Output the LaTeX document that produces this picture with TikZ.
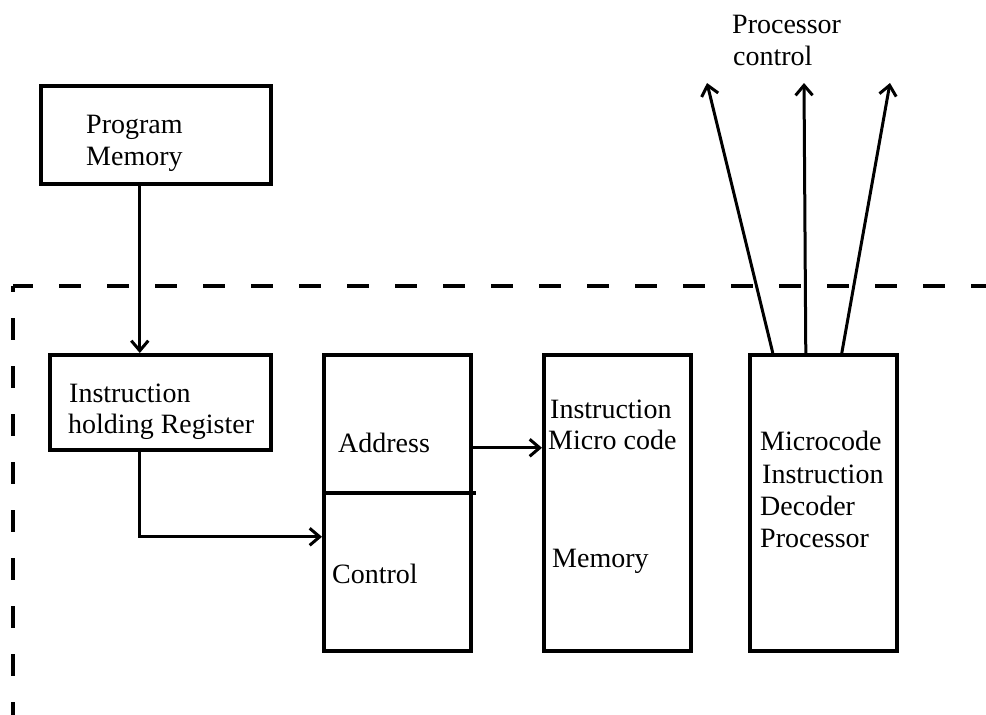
\documentclass[tikz,border=0pt]{standalone}
\usepackage{fontspec}
\setmainfont{Liberation Serif}
\usetikzlibrary{arrows.meta,calc}
\begin{document}
\begin{tikzpicture}[x=1pt,y=-1pt,
  box/.style={draw=black,line width=3.6pt,inner sep=0pt,anchor=north west},
  lbl/.style={anchor=base west,inner sep=0pt,font=\fontsize{28}{32}\selectfont},
  arr/.style={draw=black,line width=3pt,-{Straight Barb[length=10pt,width=17pt]}},
  boundary/.style={draw=black,line width=3.2pt,dash pattern=on 22pt off 26pt}]
\useasboundingbox (0,0) rectangle (986,715);

% dashed enclosure of the microprogrammed control unit
\draw[boundary,dash phase=2pt] (13,286) -- (986,286);
\draw[boundary,dash phase=16pt] (13,286) -- (13,715);

% blocks
\node[box,minimum width=230pt,minimum height=98pt] (pm) at (39,84) {};
\node[box,minimum width=221pt,minimum height=95pt] (ihr) at (48,353) {};
\node[box,minimum width=147pt,minimum height=296pt] (addr) at (322,353) {};
\node[box,minimum width=147pt,minimum height=296pt] (mem) at (542,353) {};
\node[box,minimum width=147pt,minimum height=296pt] (mc) at (748,353) {};

% split of the address / control block
\draw[line width=3.6pt] ([yshift=10pt]addr.west) -- ([xshift=3pt,yshift=10pt]addr.east);

% labels
\node[lbl] (pmA) at (86,133) {Program};
\node[lbl] (pmB) at (86,165) {Memory};
\node[lbl] (ihrA) at (69,402) {Instruction};
\node[lbl] (ihrB) at (68,433) {holding Register};
\node[lbl] (addrA) at (338,452) {Address};
\node[lbl] (ctrlA) at (332,583) {Control};
\node[lbl] (memA) at (550,418) {Instruction};
\node[lbl] (memB) at (548,449) {Micro code};
\node[lbl] (memC) at (552,567) {Memory};
\node[lbl] (mcA) at (760,450) {Microcode};
\node[lbl] (mcB) at (762,483) {Instruction};
\node[lbl] (mcC) at (760,515) {Decoder};
\node[lbl] (mcD) at (760,547) {Processor};
\node[lbl] (pcA) at (732,33) {Processor};
\node[lbl] (pcB) at (733,65) {control};

% processor control outputs
\coordinate (outL) at (707,83);
\coordinate (outM) at (804,83);
\coordinate (outR) at (890,83);

% connectors
\draw[arr] ([xshift=-16pt]pm.south) -- ([xshift=-16pt]pm.south |- ihr.north);
\draw[arr] ([xshift=-20.5pt]ihr.south) |- ([yshift=-34pt]addr.west);
\draw[arr] ([yshift=55pt]addr.east) -- ([yshift=55pt]mem.west);
\draw[arr] ([xshift=-50.5pt]mc.north) -- (outL);
\draw[arr] ([xshift=-17.5pt]mc.north) -- (outM);
\draw[arr] ([xshift=18.5pt]mc.north) -- (outR);
\end{tikzpicture}
\end{document}
